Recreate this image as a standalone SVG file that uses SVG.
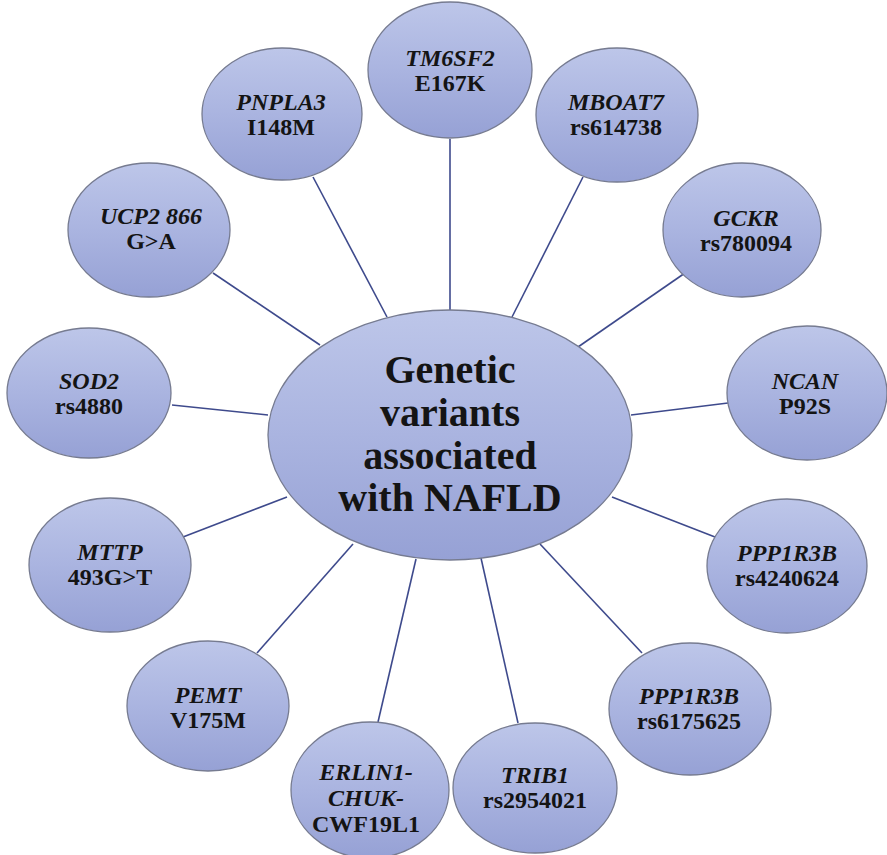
<svg xmlns="http://www.w3.org/2000/svg" width="887" height="855" viewBox="0 0 887 855">
  <defs>
    <linearGradient id="fillGrad" x1="0" y1="0" x2="0" y2="1">
      <stop offset="0" stop-color="#bdc6e9"/>
      <stop offset="0.5" stop-color="#aab4e0"/>
      <stop offset="1" stop-color="#96a1d5"/>
    </linearGradient>
  </defs>
  <style>
    .node ellipse { fill: url(#fillGrad); stroke: #767b90; stroke-width: 1.3; }
    .edge { stroke: #3e4a8c; stroke-width: 1.6; fill: none; }
    text { font-family: "Liberation Serif", "Times New Roman", serif; font-weight: bold; fill: #141414; text-anchor: middle; }
    .lbl { font-size: 24px; }
    .gene { font-style: italic; }
    .hub { font-size: 40px; }
  </style>
  <rect width="887" height="855" fill="#ffffff"/>

  <g id="connectors">
    <line class="edge" x1="450" y1="139" x2="450" y2="310"/>
    <line class="edge" x1="313" y1="177" x2="387" y2="317"/>
    <line class="edge" x1="583" y1="177" x2="512" y2="317"/>
    <line class="edge" x1="213" y1="273" x2="320" y2="345"/>
    <line class="edge" x1="685" y1="273" x2="578" y2="347"/>
    <line class="edge" x1="172" y1="405" x2="268" y2="415"/>
    <line class="edge" x1="728" y1="403" x2="631" y2="415"/>
    <line class="edge" x1="183" y1="537" x2="287" y2="497"/>
    <line class="edge" x1="715" y1="537" x2="612" y2="497"/>
    <line class="edge" x1="257" y1="653" x2="353" y2="544"/>
    <line class="edge" x1="378" y1="722" x2="416" y2="559"/>
    <line class="edge" x1="518" y1="723" x2="481" y2="558"/>
    <line class="edge" x1="642" y1="653" x2="540" y2="544"/>
  </g>

  <g id="hub" class="node">
    <ellipse cx="450" cy="435" rx="182" ry="125"/>
    <text class="hub" x="450" y="383">Genetic</text>
    <text class="hub" x="450" y="426">variants</text>
    <text class="hub" x="450" y="469">associated</text>
    <text class="hub" x="450" y="511">with NAFLD</text>
  </g>

  <g id="tm6sf2" class="node">
    <ellipse cx="450" cy="70" rx="82" ry="68"/>
    <text class="lbl gene" x="450" y="66">TM6SF2</text>
    <text class="lbl" x="450" y="91">E167K</text>
  </g>

  <g id="pnpla3" class="node">
    <ellipse cx="282" cy="114" rx="80" ry="66"/>
    <text class="lbl gene" x="281" y="110">PNPLA3</text>
    <text class="lbl" x="281" y="135">I148M</text>
  </g>

  <g id="mboat7" class="node">
    <ellipse cx="617" cy="115" rx="81" ry="67"/>
    <text class="lbl gene" x="616" y="110">MBOAT7</text>
    <text class="lbl" x="616" y="135">rs614738</text>
  </g>

  <g id="ucp2" class="node">
    <ellipse cx="149" cy="230" rx="81" ry="67"/>
    <text class="lbl gene" x="151" y="224">UCP2 866</text>
    <text class="lbl" x="151" y="249">G&gt;A</text>
  </g>

  <g id="gckr" class="node">
    <ellipse cx="742" cy="230" rx="79" ry="67"/>
    <text class="lbl gene" x="746" y="226">GCKR</text>
    <text class="lbl" x="746" y="251">rs780094</text>
  </g>

  <g id="sod2" class="node">
    <ellipse cx="89" cy="393" rx="82" ry="65"/>
    <text class="lbl gene" x="89" y="389">SOD2</text>
    <text class="lbl" x="89" y="414">rs4880</text>
  </g>

  <g id="ncan" class="node">
    <ellipse cx="807" cy="393" rx="80" ry="67"/>
    <text class="lbl gene" x="805" y="389">NCAN</text>
    <text class="lbl" x="805" y="414">P92S</text>
  </g>

  <g id="mttp" class="node">
    <ellipse cx="110" cy="565" rx="81" ry="67"/>
    <text class="lbl gene" x="110" y="560">MTTP</text>
    <text class="lbl" x="110" y="585">493G&gt;T</text>
  </g>

  <g id="ppp1r3b-a" class="node">
    <ellipse cx="787" cy="566" rx="80" ry="67"/>
    <text class="lbl gene" x="787" y="561">PPP1R3B</text>
    <text class="lbl" x="787" y="586">rs4240624</text>
  </g>

  <g id="pemt" class="node">
    <ellipse cx="208" cy="706" rx="81" ry="65"/>
    <text class="lbl gene" x="208" y="703">PEMT</text>
    <text class="lbl" x="208" y="728">V175M</text>
  </g>

  <g id="ppp1r3b-b" class="node">
    <ellipse cx="690" cy="709" rx="81" ry="66"/>
    <text class="lbl gene" x="689" y="704">PPP1R3B</text>
    <text class="lbl" x="689" y="729">rs6175625</text>
  </g>

  <g id="erlin1" class="node">
    <ellipse cx="370" cy="790" rx="79" ry="68"/>
    <text class="lbl gene" x="366" y="780">ERLIN1-</text>
    <text class="lbl gene" x="366" y="806">CHUK-</text>
    <text class="lbl" x="366" y="832">CWF19L1</text>
  </g>

  <g id="trib1" class="node">
    <ellipse cx="535" cy="788" rx="82" ry="65"/>
    <text class="lbl gene" x="535" y="783">TRIB1</text>
    <text class="lbl" x="535" y="808">rs2954021</text>
  </g>
</svg>
